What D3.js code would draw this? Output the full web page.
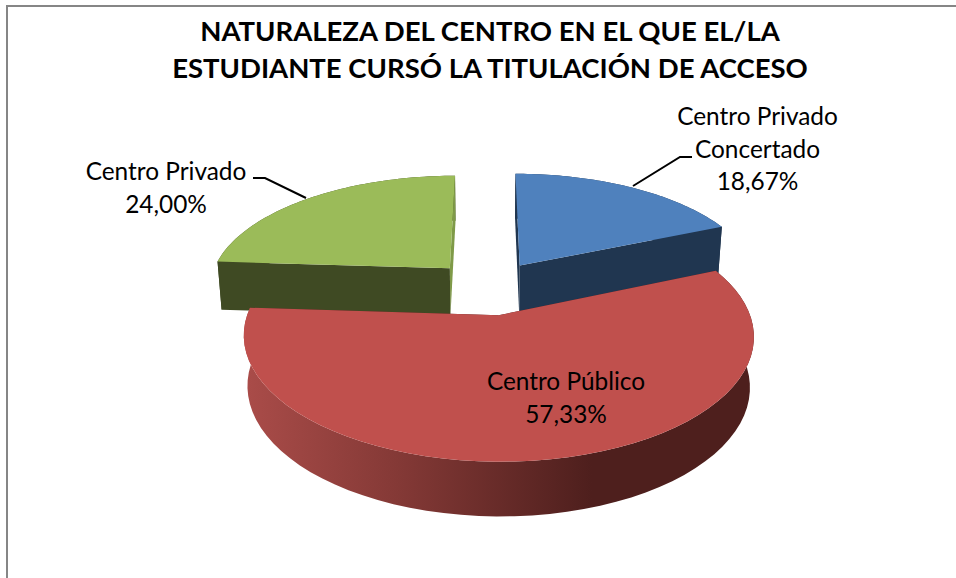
<!DOCTYPE html>
<html><head><meta charset="utf-8">
<script src="https://cdn.jsdelivr.net/npm/d3@7"></script>
<style>html,body{margin:0;padding:0;background:#fff}svg{display:block}</style>
</head><body><svg id="c" width="956" height="578"></svg>
<script>
const categories = ["Centro Privado Concertado", "Centro Público", "Centro Privado"];
const values = [18.67, 57.33, 24.00];
const percentLabels = ["18,67%", "57,33%", "24,00%"];
const titleLines = ["NATURALEZA DEL CENTRO EN EL QUE EL/LA", "ESTUDIANTE CURSÓ LA TITULACIÓN DE ACCESO"];
const topColors = ["#4f81bd", "#c0504d", "#9bbb59"];
const wallColors = ["#203650", "#4e1f1d", "#3f4a23"];
const sideColors = ["#203650", "#4e1f1d", "#7f9a48"];
const FONT = "Lato, 'Open Sans', sans-serif";

const svg = d3.select("#c");
// Projection parameters for the tilted exploded pie
const cx = 488.5, cy = 287.5, R = 242, tilt = 113, persp = 0.16, explode = 0.24, depth = 49, shrink = 0.985;
const xs = d3.scaleLinear().domain([0, 1]).range([0, R]);
const zs = d3.scaleLinear().domain([0, 1]).range([0, tilt]);
function proj(X, Z, low) {
  const s = 1 / (1 + persp * Z);
  return [cx + xs(X) * s * (low ? shrink : 1), cy - zs(Z) * s + (low ? depth * Math.sqrt(s) : 0)];
}
const pieGen = d3.pie().sort(null).value(d => d);
const arcs = pieGen(values);
const line = d3.line();
function geom(d) {
  const m = (d.startAngle + d.endAngle) / 2;
  const ox = explode * Math.sin(m), oz = explode * Math.cos(m);
  const pt = (a, r, low) => proj(ox + r * Math.sin(a), oz + r * Math.cos(a), low);
  const angles = d3.range(0, 61).map(i => d.startAngle + (d.endAngle - d.startAngle) * i / 60);
  return {pt, angles};
}
const defs = svg.append("defs");
const grad = defs.append("linearGradient").attr("id", "redWall").attr("gradientUnits", "userSpaceOnUse")
  .attr("x1", 245).attr("x2", 755).attr("y1", 0).attr("y2", 0);
[[0, "#aa4c49"], [0.3, "#843936"], [0.68, "#4e1f1d"], [1, "#4e1f1d"]].forEach(s =>
  grad.append("stop").attr("offset", s[0]).attr("stop-color", s[1]));

// border
svg.append("path").attr("d", "M7,578V6H956").attr("fill", "none").attr("stroke", "#868686").attr("stroke-width", 2);

// title
svg.append("g").selectAll("text").data(titleLines).join("text")
  .attr("x", 490).attr("y", (d, i) => 41 + i * 37)
  .attr("text-anchor", "middle").attr("font-family", FONT).attr("font-weight", 700)
  .attr("font-size", 27.5).attr("fill", "#000").text(d => d);

// back slices first (blue, green), then red in front
[0, 2, 1].forEach(i => {
  const d = arcs[i], g = geom(d);
  const apexT = g.pt(0, 0, false), apexB = g.pt(0, 0, true);
  const s = svg.append("g");
  // outer wall
  const outer = g.angles.map(a => g.pt(a, 1, false)).concat(g.angles.slice().reverse().map(a => g.pt(a, 1, true)));
  s.append("path").attr("d", line(outer) + "Z").attr("fill", i === 1 ? "url(#redWall)" : wallColors[i]);
  // cut faces: back face first, front face over it
  [[d.endAngle, sideColors[i]], [d.startAngle, wallColors[i]]]
    .sort((p, q) => Math.cos(q[0]) - Math.cos(p[0]))
    .forEach(([a, col]) => {
      const face = [apexT, g.pt(a, 1, false), g.pt(a, 1, true), apexB];
      s.append("path").attr("d", line(face) + "Z").attr("fill", col);
    });
  // top surface
  const top = [apexT].concat(g.angles.map(a => g.pt(a, 1, false)));
  s.append("path").attr("d", line(top) + "Z").attr("fill", topColors[i]);
});

// leader lines
const leaders = [
  [[633, 186], [680, 157], [692, 157]],
  [[253, 178], [265, 178], [306, 198]]
];
svg.append("g").selectAll("path").data(leaders).join("path")
  .attr("d", d => line(d)).attr("fill", "none").attr("stroke", "#000").attr("stroke-width", 2);

// labels
const labelLines = [
  {lines: ["Centro Privado", "Concertado", percentLabels[0]], x: 757.5, y: 125},
  {lines: [categories[1], percentLabels[1]], x: 566, y: 390},
  {lines: [categories[2], percentLabels[2]], x: 166, y: 180}
];
labelLines.forEach(l => {
  svg.append("g").selectAll("text").data(l.lines).join("text")
    .attr("x", l.x).attr("y", (d, i) => l.y + i * 32.5)
    .attr("text-anchor", "middle").attr("font-family", FONT)
    .attr("font-size", 24.4).attr("fill", "#000").text(d => d);
});
</script></body></html>
